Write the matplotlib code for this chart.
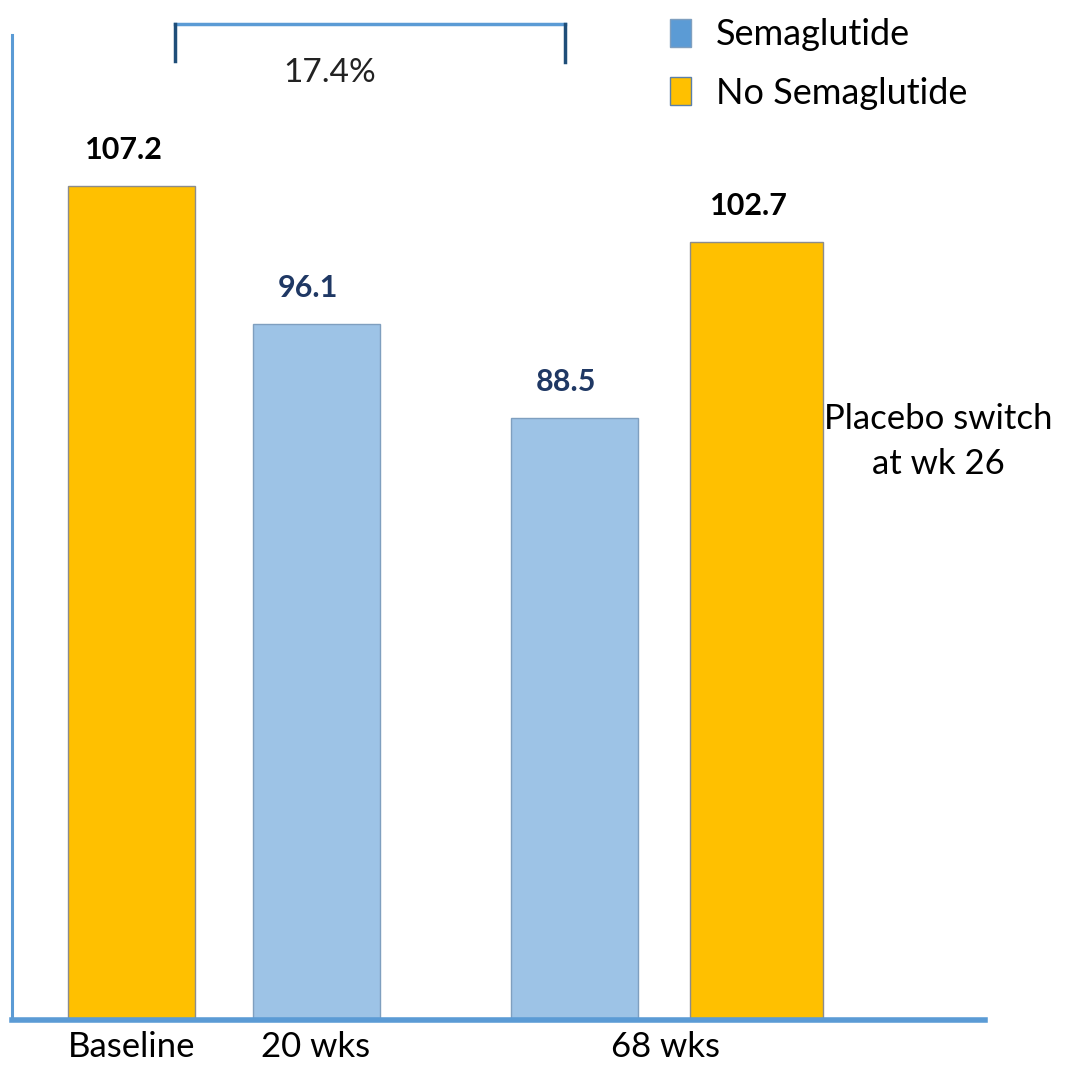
import matplotlib
matplotlib.use('Agg')
from matplotlib import pyplot as plt
from matplotlib.patches import Patch

plt.rcParams['font.family'] = ['Lato', 'DejaVu Sans']

# body weight (kg) at each visit
groups = ['Baseline', '20 wks', '68 wks', '68 wks']
weights = [107.2, 96.1, 88.5, 102.7]
on_drug = [False, True, True, False]
weight_labels = ['107.2', '96.1', '88.5', '102.7']
tick_labels = ['Baseline', '20 wks', '68 wks']
pct_change = '17.4%'

GOLD = '#FFC000'
LIGHT_BLUE = '#9DC3E6'
MID_BLUE = '#5B9BD5'
NAVY = '#1F3864'

xpos = [0, 1.453, 3.484, 4.92]
widths = [1.0, 1.0, 1.0, 1.05]

fig = plt.figure(figsize=(10.76, 10.71), dpi=100)
ax = fig.add_axes([12 / 1076, 51 / 1071, 973 / 1076, 985 / 1071])

colors = [LIGHT_BLUE if d else GOLD for d in on_drug]
edges = ['#7F9FBF' if d else '#8C8C8C' for d in on_drug]
ax.bar(xpos, weights, width=widths, color=colors, edgecolor=edges,
       linewidth=1.0, bottom=0, zorder=2)

for x, w, lab, d in zip(xpos, weights, weight_labels, on_drug):
    ax.annotate(lab, (x - 0.06, w), xytext=(0, 16), textcoords='offset points',
                ha='center', va='bottom', fontsize=22, fontweight='bold',
                color=NAVY if d else 'black')

ax.set_ylim(40, 119.4)
ax.set_xlim(-0.941, 6.72)

ax.set_xticks([xpos[0], xpos[1], (xpos[2] + xpos[3]) / 2])
ax.set_xticklabels(tick_labels, fontsize=25)
ax.tick_params(axis='x', length=0, pad=8)
ax.set_yticks([])

for side in ['top', 'right']:
    ax.spines[side].set_visible(False)
ax.spines['left'].set_color(MID_BLUE)
ax.spines['left'].set_linewidth(2.2)
ax.spines['bottom'].set_color(MID_BLUE)
ax.spines['bottom'].set_linewidth(4)

# bracket over baseline -> 68 wks
ytop = 120.3
ax.plot([0.343, 3.41], [ytop, ytop], color=MID_BLUE, lw=2.5, clip_on=False)
ax.plot([0.343, 0.343], [ytop, ytop - 3.0], color='#1F4E79', lw=2.5, clip_on=False)
ax.plot([3.41, 3.41], [ytop, ytop - 3.1], color='#1F4E79', lw=2.5, clip_on=False)
ax.text(1.56, 116.3, pct_change, ha='center', va='center', fontsize=24,
        color='#222222')

ax.text(6.35, 86.6, 'Placebo switch\nat wk 26', ha='center', va='center',
        fontsize=25, linespacing=1.5)

handles = [Patch(facecolor=MID_BLUE, edgecolor='#7F9FBF', label='Semaglutide'),
           Patch(facecolor=GOLD, edgecolor='#5B7FA8', label='No Semaglutide')]
fig.legend(handles=handles, loc='upper left', bbox_to_anchor=(656 / 1076, 1 - 4 / 1071),
           borderaxespad=0, frameon=False, fontsize=26, handlelength=0.56,
           handleheight=0.8, handletextpad=0.7, labelspacing=0.7)

fig.savefig('out.png', dpi=100)
